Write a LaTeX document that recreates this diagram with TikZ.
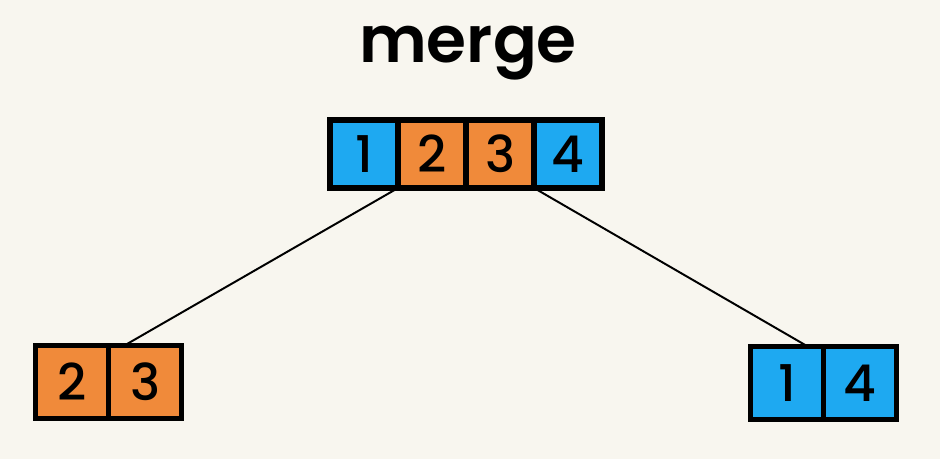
\documentclass[tikz,border=0pt]{standalone}
\usepackage{fontspec}
\setmainfont{Poppins Medium}
\newfontfamily\titlefont{Poppins SemiBold}
\usetikzlibrary{positioning}
\definecolor{paper}{HTML}{F8F6EF}
\definecolor{cellblue}{HTML}{1EA9F1}
\definecolor{cellorange}{HTML}{F08A3A}
\tikzset{
  cell/.style={draw=black, line width=0.13cm, outer sep=0pt, inner sep=0pt,
    minimum size=#1, font=\fontsize{36}{36}\selectfont},
  bluecell/.style={cell=#1, fill=cellblue},
  orangecell/.style={cell=#1, fill=cellorange},
  link/.style={line width=1.4pt, black}
}
\begin{document}
\begin{tikzpicture}[x=0.025cm, y=-0.025cm]
		\fill[paper] (0,0) rectangle (940,459);
		\useasboundingbox (0,0) rectangle (940,459);
		\node[font=\fontsize{46}{46}\titlefont] (title) at (468,53) {merge};
		% merged array
		\node[bluecell=1.7cm] (t1) at (364,154) {1};
		\node[orangecell=1.7cm, right=0pt of t1] (t2) {2};
		\node[orangecell=1.7cm, right=0pt of t2] (t3) {3};
		\node[bluecell=1.7cm, right=0pt of t3] (t4) {4};
		% left half
		\node[orangecell=1.83cm] (l1) at (72,382) {2};
		\node[orangecell=1.83cm, right=0pt of l1] (l2) {3};
		% right half
		\node[bluecell=1.83cm] (r1) at (787,383) {1};
		\node[bluecell=1.83cm, right=0pt of r1] (r2) {4};
		\draw[link] (t1.south east) -- ([xshift=0.4cm]l2.north west);
		\draw[link] (t4.south west) -- ([xshift=-0.4cm]r1.north east);
		\end{tikzpicture}
\end{document}
